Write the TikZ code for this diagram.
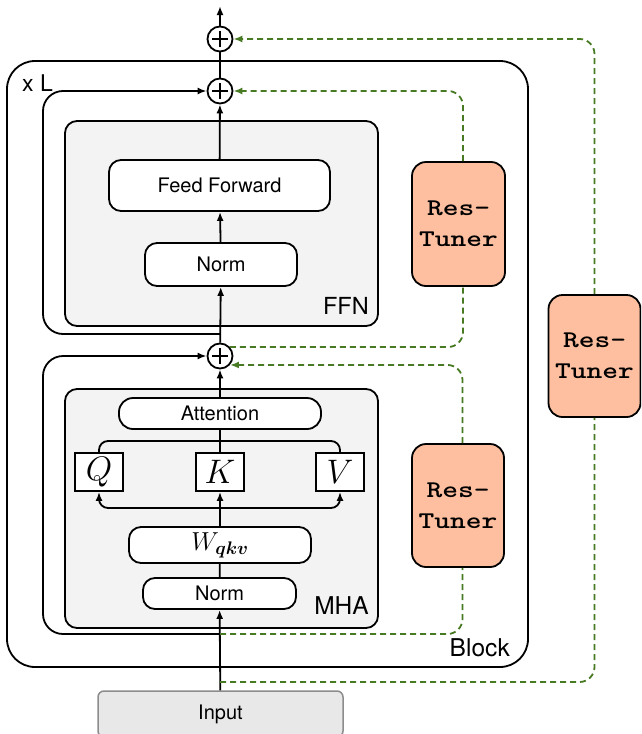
\RequirePackage{fix-cm}
\documentclass[tikz,border=0pt]{standalone}
\usepackage{fontspec}
\usepackage{bm}
\setmainfont{TeX Gyre Heros}
\usetikzlibrary{arrows.meta}

\definecolor{resgreen}{RGB}{72,122,36}
\definecolor{tunerfill}{RGB}{253,191,159}
\definecolor{panelfill}{RGB}{243,243,243}
\definecolor{inputfill}{RGB}{232,232,232}
\definecolor{inputdraw}{RGB}{140,140,140}

\newcommand\setfs[1]{\fontsize{#1}{#1}\selectfont}
\newcommand\tunertext{\scalebox{1.25}[1]{Res-}\\\scalebox{1.25}[1]{Tuner}}

\begin{document}
\begin{tikzpicture}[
  x=1pt, y=-1pt, line width=1.8pt,
  arr/.style={-{Latex[length=9pt,width=7pt]}},
  plainbox/.style={draw, fill=white, rounded corners=12pt, inner sep=0pt, font=\setfs{20}},
  panel/.style={draw, fill=panelfill, rounded corners=12pt, inner sep=0pt},
  tuner/.style={draw, fill=tunerfill, rounded corners=14pt, inner sep=0pt,
    align=center, font=\ttfamily\bfseries\fontsize{24}{31}\selectfont,
    minimum width=92pt, minimum height=123pt},
  matbox/.style={draw, fill=white, inner sep=0pt, minimum width=48pt,
    minimum height=38pt, font=\setfs{34}},
  sumnode/.style={circle, draw, fill=white, minimum size=25pt, inner sep=0pt,
    path picture={\draw[line width=1.8pt]
      ([xshift=-8pt]path picture bounding box.center) -- ([xshift=8pt]path picture bounding box.center)
      ([yshift=-8pt]path picture bounding box.center) -- ([yshift=8pt]path picture bounding box.center);}},
  res/.style={draw=resgreen, line width=1.8pt, dash pattern=on 6pt off 4pt, rounded corners=15pt},
  resarr/.style={res, -{Latex[length=9pt,width=7pt]}, resgreen},
]
\useasboundingbox (0,0) rectangle (641,734);
\clip (0,0) rectangle (641,734);

% repeated block frame
\node[draw, rounded corners=28pt, minimum width=521pt, minimum height=606pt, inner sep=0pt] (block) at (267.5,364) {};
\node[anchor=base west, font=\setfs{23}] (xl) at (18,91) {x L};
\node[anchor=base east, font=\setfs{24.5}] (blocklabel) at (514,656) {Block};

% residual points on the main path
\coordinate (ffnjoin) at (220,334);
\coordinate (mhajoin) at (220,634);
\coordinate (injoin) at (220,682);
\coordinate (out) at (220,6);
\coordinate (split) at (220,508);

% FFN and MHA residual loops
\node[sumnode] (s3) at (220,39) {};
\node[sumnode] (s2) at (220,91) {};
\node[sumnode] (s1) at (220,356) {};
\draw[arr, rounded corners=20pt] (ffnjoin) -- (43,334) -- (43,91) -- (s2);
\draw[arr, rounded corners=20pt] (mhajoin) -- (43,634) -- (43,356) -- (s1);

% FFN sub-layer
\node[panel, minimum width=313pt, minimum height=205pt] (ffn) at (221.5,223.5) {};
\node[anchor=base east, font=\setfs{23.5}] (ffnlabel) at (373,314) {FFN};
\node[plainbox, minimum width=221pt, minimum height=51pt] (ff) at (219.5,185.5) {Feed Forward};
\node[plainbox, minimum width=152pt, minimum height=43pt] (n1) at (221,264.5) {Norm};

% MHA sub-layer
\node[panel, minimum width=313pt, minimum height=239pt] (mha) at (221.5,508.5) {};
\node[anchor=base east, font=\setfs{24.5}] (mhalabel) at (373,614) {MHA};
\node[plainbox, rounded corners=14pt, minimum width=202pt, minimum height=31pt] (att) at (220,413.5) {Attention};
\node[matbox] (q) at (99,472) {$Q$};
\node[matbox] (k) at (220,472) {$K$};
\node[matbox] (v) at (340,472) {$V$};
\node[plainbox, minimum width=182pt, minimum height=36pt, font=\setfs{26}] (w) at (220,545) {$W_{\bm{qkv}}$};
\node[plainbox, minimum width=153pt, minimum height=31pt] (n2) at (219.5,593.5) {Norm};

% input
\node[draw=inputdraw, fill=inputfill, line width=1.5pt, rounded corners=6pt, inner sep=0pt,
  minimum width=245pt, minimum height=46pt, font=\setfs{20}] (input) at (220.5,714) {Input};

% Res-Tuners
\node[tuner, minimum width=93pt, minimum height=124pt] (t1) at (458.5,224) {\tunertext};
\node[tuner] (t2) at (458,505.5) {\tunertext};
\node[tuner, minimum height=122pt] (t3) at (594.5,356) {\tunertext};

% main data path
\draw[arr] (s3) -- (out);
\draw (s2) -- (s3);
\draw[arr] (ff) -- (s2);
\draw[arr] (n1) -- (ff);
\draw[arr] (s1) -- (n1);
\draw[arr] (att) -- (s1);
\draw (k) -- (att);
\draw[rounded corners=9pt] (q.north) -- (99,441) -- (340,441) -- (v.north);
\draw[arr] (w) -- (k);
\draw[arr, rounded corners=9pt] (split) -| (q.south);
\draw[arr, rounded corners=9pt] (split) -| (v.south);
\draw (n2) -- (w);
\draw[arr] (input) -- (n2);

% Res-Tuner side paths
\draw[res] (injoin) -| (t3.south);
\draw[resarr] (t3.north) |- (s3.east);
\draw[res] (s1.42) -| ([xshift=4.5pt]t1.south);
\draw[resarr] ([xshift=4.5pt]t1.north) |- (s2.east);
\draw[res] (mhajoin) -| ([xshift=4.5pt]t2.south);
\draw[resarr] ([xshift=4.5pt]t2.north) |- (s1.-42);
\end{tikzpicture}
\end{document}
